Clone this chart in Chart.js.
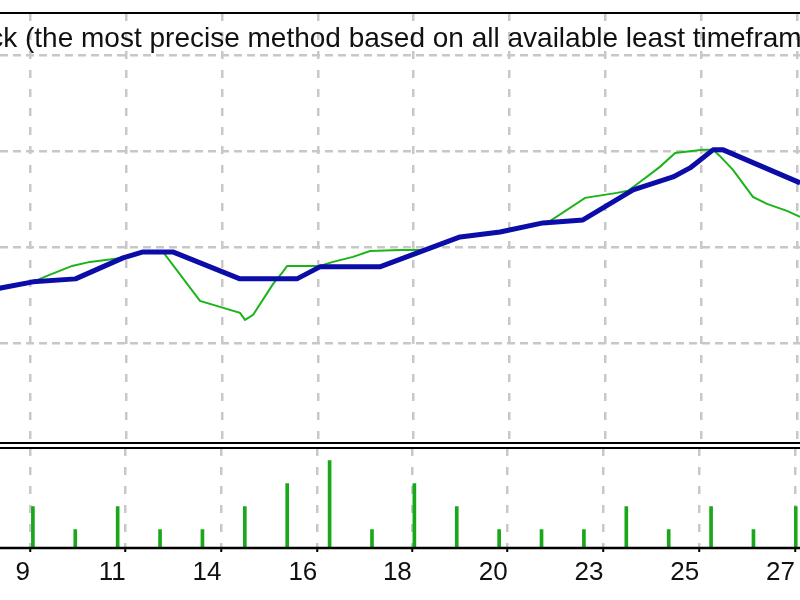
<!DOCTYPE html>
<html>
<head>
<meta charset="utf-8">
<script src="https://cdn.jsdelivr.net/npm/chart.js@4.4.1/dist/chart.umd.min.js"></script>
<style>
  html, body { margin: 0; padding: 0; background: #fff; overflow: hidden; }
  #wrap { position: relative; width: 800px; height: 600px; }
  #main_wrap { position: absolute; left: 0; top: 0; width: 800px; height: 446px; }
  #vol_wrap { position: absolute; left: 0; top: 446px; width: 800px; height: 154px; }
</style>
</head>
<body>
<div id="wrap">
  <div id="main_wrap"><canvas id="main_chart"></canvas></div>
  <div id="vol_wrap"><canvas id="vol_chart"></canvas></div>
</div>
<script>
// balance / equity, x = trade number (0 = first bar)
const balanceX = [-1, 0, 1, 2.12, 2.59, 3.29, 4.87, 6.21, 6.75, 8.16, 10.05, 10.99, 12, 12.94, 14.12, 15.06, 15.46, 16, 16.24, 18.05, 18.5];
const balanceY = [1055.5, 1063.9, 1067.0, 1088.9, 1095.1, 1095.1, 1067.0, 1067.0, 1079.5, 1079.5, 1110.7, 1115.9, 1125.3, 1128.4, 1159.7, 1173.2, 1182.6, 1201.4, 1201.4, 1167.0, 1158.6];

const equityX = [-1, 0, 0.33, 0.92, 1.34, 1.76, 2.12, 2.59, 3.06, 3.93, 4.4, 4.87, 4.99, 5.18, 5.65, 5.88, 5.98,
                 6.75, 7.06, 7.53, 7.93, 8.64, 8.92, 9.22, 10.05, 10.99, 12, 12.12, 12.99, 13.74, 14.0, 14.28, 14.75,
                 15.11, 15.76, 16, 16.16, 16.47, 16.94, 17.27, 17.74, 18.05, 18.5];
const equityY = [1055.5, 1063.9, 1070.1, 1080.5, 1084.7, 1086.8, 1088.9, 1095.1, 1095.1, 1044.1, 1037.8, 1031.6, 1024.3, 1029.5, 1061.8, 1074.3, 1080.5,
                 1080.5, 1084.7, 1089.9, 1096.1, 1097.2, 1097.2, 1097.2, 1110.7, 1115.9, 1125.3, 1125.9, 1151.4, 1156.6, 1158.7, 1168.0, 1183.7,
                 1198.2, 1201.4, 1201.4, 1195.1, 1180.5, 1152.4, 1145.1, 1137.8, 1131.6, 1126.4];

// lots per trade
const volumes = [2, 1, 2, 1, 1, 2, 3, 4, 1, 3, 2, 1, 1, 1, 2, 1, 2, 1, 2];

// date grid (day of month) and level grid
const dateTicks = [-0.07, 2.19, 4.45, 6.71, 8.94, 11.2, 13.46, 15.72, 17.98];
const dateLabels = ['9', '11', '14', '16', '18', '20', '23', '25', '27'];
const levelTicks = [1000, 1100, 1200, 1300];

const titleText = 'Every tick (the most precise method based on all available least timeframes to generate each tick)';

const gridColor = '#c8c8c8';
const xMin = -0.776, xMax = 18.047;

const pairs = (xs, ys) => xs.map((x, i) => ({x: x, y: ys[i]}));

// black separator lines at top / bottom of the plot area
const frame = {
    id: 'frame',
    afterDraw(chart, args, opts) {
        const ctx = chart.ctx, a = chart.chartArea;
        ctx.save();
        ctx.strokeStyle = '#000';
        ctx.lineWidth = opts.top;
        ctx.beginPath();
        ctx.moveTo(0, a.top);
        ctx.lineTo(chart.width, a.top);
        ctx.stroke();
        ctx.lineWidth = opts.bottom;
        ctx.beginPath();
        ctx.moveTo(0, a.bottom);
        ctx.lineTo(chart.width, a.bottom);
        ctx.stroke();
        ctx.restore();
    }
};

const title = {
    id: 'title_line',
    afterDraw(chart) {
        const ctx = chart.ctx;
        ctx.save();
        ctx.font = '28px "Liberation Sans", Arial, sans-serif';
        ctx.fillStyle = '#111';
        ctx.textBaseline = 'alphabetic';
        const lead = ctx.measureText('Every tick ').width;
        ctx.fillText(titleText, 25 - lead, 47);
        ctx.restore();
    }
};

//balance + equity
new Chart(document.getElementById('main_chart'), {
    type: 'line',
    data: {
        datasets: [{
            label: 'Balance',
            data: pairs(balanceX, balanceY),
            borderColor: '#0c0ca8',
            borderWidth: 5,
            borderJoinStyle: 'round',
            pointRadius: 0,
            tension: 0
        }, {
            label: 'Equity',
            data: pairs(equityX, equityY),
            borderColor: '#18b418',
            borderWidth: 2,
            pointRadius: 0,
            tension: 0
        }]
    },
    options: {
        responsive: true,
        maintainAspectRatio: false,
        animation: false,
        layout: { padding: { top: 13, bottom: 3, left: 0, right: 0 } },
        plugins: {
            legend: { display: false },
            tooltip: { enabled: false },
            frame: { top: 2, bottom: 2 }
        },
        scales: {
            x: {
                type: 'linear',
                min: xMin,
                max: xMax,
                afterBuildTicks: s => { s.ticks = dateTicks.map(v => ({value: v})); },
                ticks: { display: false },
                grid: { color: gridColor, lineWidth: 2.5, drawTicks: false },
                border: { display: false, dash: [8, 11] }
            },
            y: {
                min: 896,
                max: 1344,
                afterBuildTicks: s => { s.ticks = levelTicks.map(v => ({value: v})); },
                ticks: { display: false },
                grid: { color: gridColor, lineWidth: 2.5, drawTicks: false },
                border: { display: false, dash: [8, 5] }
            }
        }
    },
    plugins: [frame, title]
});

//volume panel
new Chart(document.getElementById('vol_chart'), {
    type: 'bar',
    data: {
        datasets: [{
            data: volumes.map((v, i) => ({x: i, y: v})),
            backgroundColor: '#19a819',
            barThickness: 3
        }]
    },
    options: {
        responsive: true,
        maintainAspectRatio: false,
        animation: false,
        layout: { padding: { top: 2, bottom: 0, left: 0, right: 0 } },
        plugins: {
            legend: { display: false },
            tooltip: { enabled: false },
            frame: { top: 2, bottom: 2.5 }
        },
        scales: {
            x: {
                type: 'linear',
                min: xMin,
                max: xMax,
                offset: false,
                afterBuildTicks: s => { s.ticks = dateTicks.map(v => ({value: v})); },
                afterFit: s => { s.height = 52; },
                ticks: {
                    align: 'end',
                    padding: 5,
                    autoSkip: false,
                    maxRotation: 0,
                    color: '#111',
                    font: { family: '"Liberation Sans", Arial, sans-serif', size: 26 },
                    callback: (v, i) => dateLabels[i]
                },
                grid: {
                    offset: false,
                    color: gridColor,
                    lineWidth: 2.5,
                    drawTicks: true,
                    tickLength: 4,
                    tickColor: '#000',
                    tickWidth: 2,
                    tickBorderDash: []
                },
                border: { display: false, dash: [8, 11] }
            },
            y: {
                display: false,
                min: 0.2,
                max: 4.55
            }
        }
    },
    plugins: [frame]
});
</script>
</body>
</html>
